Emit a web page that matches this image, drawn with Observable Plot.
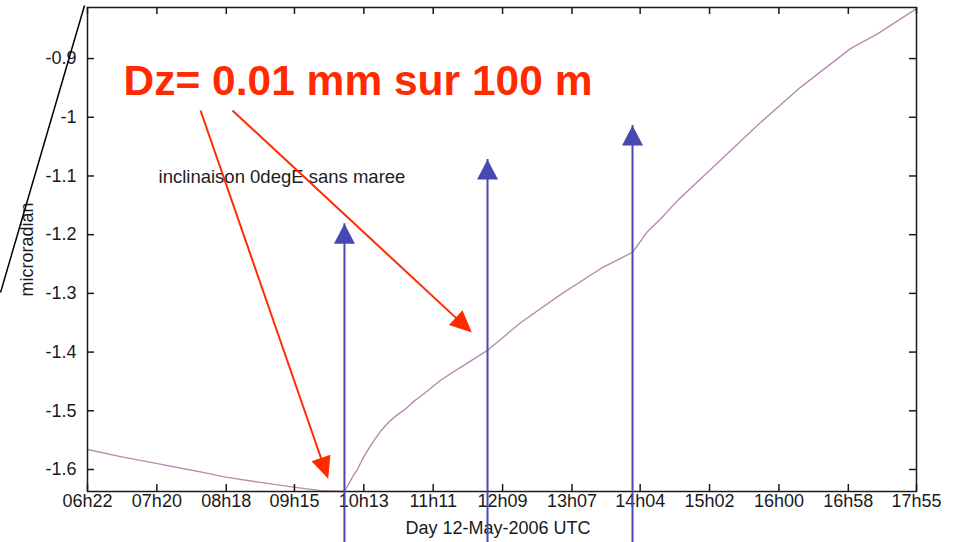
<!DOCTYPE html>
<html>
<head>
<meta charset="utf-8">
<script src="https://cdn.jsdelivr.net/npm/d3@7"></script>
<script src="https://cdn.jsdelivr.net/npm/@observablehq/plot@0.6"></script>
<style>
  html, body { margin: 0; padding: 0; background: #fff; }
  #chart svg { display: block; }
</style>
</head>
<body>
<div id="chart"></div>
<script>
// ---- data (time in minutes of day, value in microradian) ----
const times = [382.0, 409.6, 440.5, 465.6, 476.5, 497.4, 526.6, 554.2, 576.8, 596.8,
  599.1, 601.9, 604.6, 607.5, 613.0, 620.0, 626.9, 633.9, 640.9, 647.8, 654.8, 661.8, 668.7,
  677.1, 693.8, 716.4, 744.0, 777.4, 810.8, 837.6, 849.6, 860.6, 875.2, 894.4, 919.5,
  944.6, 978.0, 1019.8, 1042.4, 1075.0];
const values = [-1.566, -1.578, -1.590, -1.600, -1.604, -1.613, -1.622, -1.630, -1.636, -1.6375,
  -1.629, -1.619, -1.609, -1.6005, -1.578, -1.555, -1.535, -1.519, -1.507, -1.497, -1.484, -1.473, -1.462,
  -1.448, -1.426, -1.397, -1.350, -1.302, -1.258, -1.230, -1.196, -1.174, -1.142, -1.105, -1.057,
  -1.009, -0.949, -0.883, -0.858, -0.815];

const xTicks = [382, 440, 498, 555, 613, 671, 729, 787, 844, 902, 960, 1018, 1075];
const xLabels = ["06h22","07h20","08h18","09h15","10h13","11h11","12h09","13h07","14h04","15h02","16h00","16h58","17h55"];
const yTicks = [-1.6, -1.5, -1.4, -1.3, -1.2, -1.1, -1.0, -0.9];
const yLabels = ["-1.6", "-1.5", "-1.4", "-1.3", "-1.2", "-1.1", "-1", "-0.9"];

const xDomain = [382, 1075];
const yDomain = [-1.6375, -0.813];

// annotations
const title = "Dz= 0.01 mm sur 100 m";
const titlePos = {x: 412.1, y: -0.9629};
const subtitle = "inclinaison 0degE sans maree";
const subtitlePos = {x: 441.4, y: -1.1128};
const xAxisLabel = "Day 12-May-2006 UTC";
const yAxisLabel = "microradian";
const blueArrows = [
  {x: 596.8, y1: -1.7244, y2: -1.1814},
  {x: 716.4, y1: -1.7244, y2: -1.0719},
  {x: 837.6, y1: -1.7244, y2: -1.0140}
];
const redArrows = [
  {x1: 476.5, y1: -0.9884, x2: 583.2, y2: -1.6158},
  {x1: 503.2, y1: -0.9884, x2: 703.3, y2: -1.3668}
];
const strayLine = [{x1: 379.5, y1: -0.8095, x2: 309.3, y2: -1.2985}];

// ---- layout ----
const W = 961, H = 542, mL = 87, mR = 45, mT = 7, mB = 51;
const innerW = W - mL - mR, innerH = H - mT - mB;
const RED = "#ff2a00", BLUE = "#4848b0", CURVE = "#b88bb2", INK = "#1a1a1a";
const FONT = "'Liberation Sans', Arial, Helvetica, sans-serif";

const xs = Plot.scale({x: {domain: xDomain, range: [mL, W - mR]}});
const ys = Plot.scale({y: {domain: yDomain, range: [H - mB, mT]}});

const HEAD_LEN = 22;
const redHeads = redArrows.map(a => {
  const px1 = xs.apply(a.x1), py1 = ys.apply(a.y1), px2 = xs.apply(a.x2), py2 = ys.apply(a.y2);
  const dx = px2 - px1, dy = py2 - py1, d = Math.hypot(dx, dy);
  const angle = Math.atan2(dx, -dy) * 180 / Math.PI;
  const sx = px2 - dx / d * HEAD_LEN * 0.6, sy = py2 - dy / d * HEAD_LEN * 0.6;
  return {...a, angle, sx: xs.invert(sx), sy: ys.invert(sy)};
});

const redHead = {draw(ctx) { ctx.moveTo(0, 0); ctx.lineTo(-10, HEAD_LEN); ctx.lineTo(10, HEAD_LEN); ctx.closePath(); }};
const blueHead = {draw(ctx) { ctx.moveTo(0, 0); ctx.lineTo(-10.5, 20); ctx.lineTo(10.5, 20); ctx.closePath(); }};

const curve = times.map((t, i) => ({t, v: values[i]}));

const chart = Plot.plot({
  width: W, height: H,
  marginLeft: mL, marginRight: mR, marginTop: mT, marginBottom: mB,
  style: {fontFamily: FONT, color: INK, background: "#fff"},
  x: {domain: xDomain, axis: null},
  y: {domain: yDomain, axis: null},
  marks: [
    Plot.line(curve, {x: "t", y: "v", stroke: CURVE, strokeWidth: 1.4}),
    Plot.frame({stroke: INK, strokeWidth: 1.5}),
    // inward ticks
    Plot.tickX(xTicks, {x: d => d, insetTop: innerH - 7, stroke: INK, strokeWidth: 1.5}),
    Plot.tickX(xTicks, {x: d => d, insetBottom: innerH - 7, stroke: INK, strokeWidth: 1.5}),
    Plot.tickY(yTicks, {y: d => d, insetRight: innerW - 7, stroke: INK, strokeWidth: 1.5}),
    Plot.tickY(yTicks, {y: d => d, insetLeft: innerW - 7, stroke: INK, strokeWidth: 1.5}),
    Plot.axisX(xTicks, {tickSize: 0, tickPadding: 3, fontSize: 18, label: null,
      tickFormat: d => xLabels[xTicks.indexOf(d)]}),
    Plot.axisY(yTicks, {tickSize: 0, tickPadding: 11, fontSize: 18, label: null,
      tickFormat: d => yLabels[yTicks.indexOf(d)]}),
    Plot.text([xAxisLabel], {frameAnchor: "bottom", lineAnchor: "bottom", textAnchor: "middle", dy: 42, dx: -4, fontSize: 18, fill: INK}),
    Plot.text([yAxisLabel], {frameAnchor: "left", textAnchor: "middle", lineAnchor: "middle", dx: -60, rotate: -90, fontSize: 18, fill: INK}),
    // stray line
    Plot.link(strayLine, {x1: "x1", y1: "y1", x2: "x2", y2: "y2", stroke: "#000", strokeWidth: 1.5}),
    // subtitle
    Plot.text([subtitle], {x: subtitlePos.x, y: subtitlePos.y, textAnchor: "start", lineAnchor: "bottom", fontSize: 18.5, fill: "#222"}),
    // blue arrows
    Plot.ruleX(blueArrows, {x: "x", y1: "y1", y2: "y2", stroke: BLUE, strokeWidth: 2}),
    Plot.dot(blueArrows, {x: "x", y: "y2", symbol: blueHead, fill: BLUE, stroke: "none"}),
    // red arrows
    Plot.link(redHeads, {x1: "x1", y1: "y1", x2: "sx", y2: "sy", stroke: RED, strokeWidth: 2}),
    Plot.dot(redHeads, {x: "x2", y: "y2", rotate: "angle", symbol: redHead, fill: RED, stroke: "none"}),
    // title
    Plot.text([title], {x: titlePos.x, y: titlePos.y, textAnchor: "start", lineAnchor: "bottom", fontSize: 42.5, fontWeight: "bold", fill: RED})
  ]
});
document.getElementById("chart").appendChild(chart);
</script>
</body>
</html>
